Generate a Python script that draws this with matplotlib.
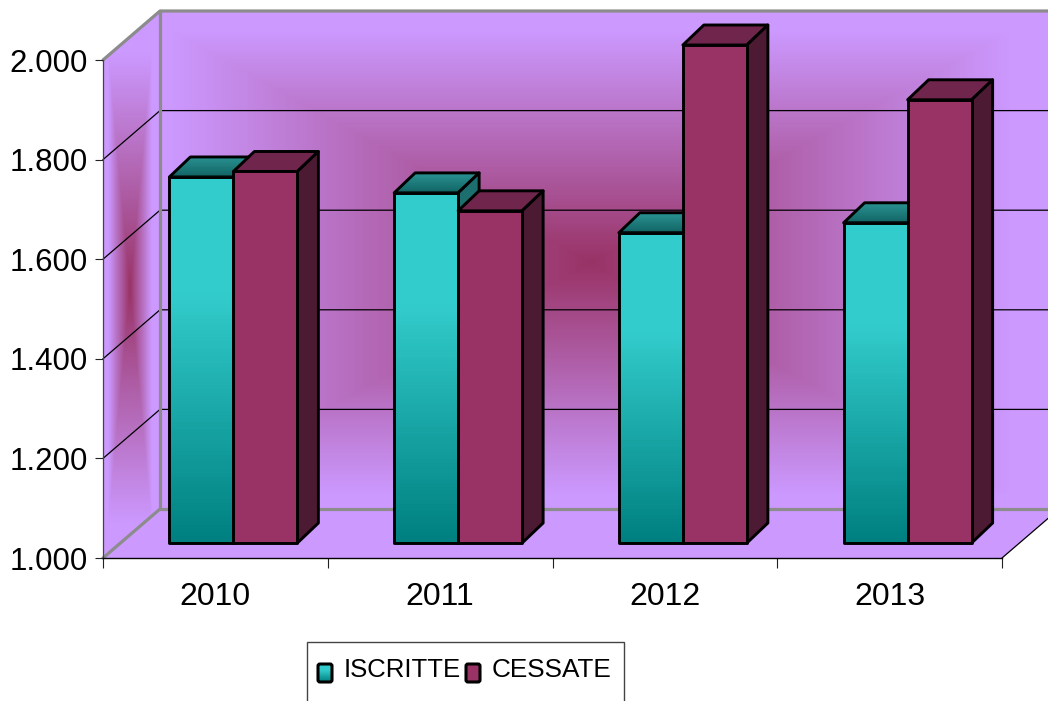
import numpy as np
import matplotlib
matplotlib.use('Agg')
import matplotlib.pyplot as plt
from matplotlib.colors import LinearSegmentedColormap
from matplotlib.patches import Polygon, Rectangle, FancyBboxPatch

years = ['2010', '2011', '2012', '2013']
iscritte = [1735, 1703, 1623, 1643]
cessate = [1746, 1667, 2000, 1890]
y_ticks = [1000, 1200, 1400, 1600, 1800, 2000]
y_labels = ['1.000', '1.200', '1.400', '1.600', '1.800', '2.000']

W, H = 1048, 701
wall_cmap = LinearSegmentedColormap.from_list('wall', ['#CC99FF', '#993366'])
teal_cmap = LinearSegmentedColormap.from_list('teal', [(0, '#008080'), (0.68, '#33CCCC'), (1, '#33CCCC')])
top_teal = LinearSegmentedColormap.from_list('topt', ['#126464', '#2A9292'])

plt.rcParams['font.family'] = ['Liberation Sans', 'DejaVu Sans']

fig = plt.figure(figsize=(W / 100, H / 100), dpi=100)

# pixel axes for the walls and the legend box
bg = fig.add_axes([0, 0, 1, 1], zorder=0)
bg.axis('off')

# front plane of the chart
left, right, bottom, top = 103, 1002, 558, 60
ax = fig.add_axes([left / W, 1 - bottom / H, (right - left) / W, (bottom - top) / H], zorder=1)
ax.patch.set_alpha(0)

depth_x, depth_y = 57, 49
bx0, bx1, by0, by1 = left + depth_x, right + depth_x, top - depth_y, bottom - depth_y

# back wall, rectangular path fill around a dark centre
px, py = np.meshgrid(np.arange(bx0, bx1), np.arange(by0, by1))
u = np.abs(px - 590) / 420
v = np.abs(py - 262) / 232
bg.imshow(np.clip(1 - np.maximum(u, v), 0, 1), cmap=wall_cmap, vmin=0, vmax=1, aspect='auto',
          extent=[bx0, bx1, by1, by0], zorder=1)

# side wall, the same fill squeezed into the parallelogram
px, py = np.meshgrid(np.linspace(left, bx0, 60), np.arange(by0, bottom))
u = np.abs(px - 130) / 22
v = np.abs(py - 288) / 235
side_img = bg.imshow(np.clip(1 - np.maximum(u, v), 0, 1), cmap=wall_cmap, vmin=0, vmax=1, aspect='auto',
                     extent=[left, bx0, bottom, by0], zorder=1)
side_poly = Polygon([(left, bottom), (left, top), (bx0, by0), (bx0, by1)], closed=True,
                    facecolor='none', edgecolor='none', zorder=1)
bg.add_patch(side_poly)
side_img.set_clip_path(side_poly)

# floor
bg.add_patch(Polygon([(left, bottom), (right, bottom), (bx1, by1), (bx0, by1)], closed=True,
                     facecolor='#CC99FF', edgecolor='none', zorder=1))

# grid on the walls
for tick in y_ticks[1:-1]:
    frac = (tick - y_ticks[0]) / (y_ticks[-1] - y_ticks[0])
    gy = bottom - frac * (bottom - top)
    bg.plot([left, bx0, bx1], [gy, gy - depth_y, gy - depth_y], color='black', lw=0.9, zorder=2)
bg.plot([right, bx1], [bottom, by1], color='black', lw=0.9, zorder=2)

# heavy grey edges of the box
edge = dict(color='#8C8C8C', lw=2.3, zorder=3, solid_capstyle='round')
bg.plot([left, bx0, bx1], [top, by0, by0], **edge)
bg.plot([bx0, bx0, bx1], [by0, by1, by1], **edge)
bg.plot([left, bx0], [bottom, by1], **edge)

# bars
ax.set_xlim(0, len(years))
ax.set_ylim(y_ticks[0], y_ticks[-1])
units_x = 1 / ((right - left) / len(years))
units_y = (y_ticks[-1] - y_ticks[0]) / (bottom - top)
front_dx, front_dy = 18 * units_x, 15 * units_y
step, rise = 21 * units_x, 20 * units_y
bar_w = 64 * units_x
edge_lw = 2.1
zo = 10


def draw_bar(x, value, front, top_face, side):
    global zo
    x0 = x + front_dx
    x1 = x0 + bar_w
    y0 = y_ticks[0] + front_dy
    y1 = value + front_dy
    common = dict(edgecolor='black', lw=edge_lw, joinstyle='round', clip_on=False)
    pts = [(x0, y1), (x1, y1), (x1 + step, y1 + rise), (x0 + step, y1 + rise)]
    if isinstance(top_face, str):
        ax.add_patch(Polygon(pts, closed=True, facecolor=top_face, zorder=zo + 2, **common))
    else:
        poly = Polygon(pts, closed=True, facecolor='none', zorder=zo + 2, **common)
        ax.add_patch(poly)
        img = ax.imshow(np.linspace(0, 1, 40).reshape(-1, 1), cmap=top_face, aspect='auto', origin='lower',
                        extent=[x0, x1 + step, y1, y1 + rise], zorder=zo + 1)
        img.set_clip_path(poly)
    ax.add_patch(Polygon([(x1, y0), (x1, y1), (x1 + step, y1 + rise), (x1 + step, y0 + rise)], closed=True,
                         facecolor=side, zorder=zo + 2, **common))
    if isinstance(front, str):
        ax.add_patch(Rectangle((x0, y0), bar_w, y1 - y0, facecolor=front, zorder=zo + 4, **common))
    else:
        ax.imshow(np.linspace(0, 1, 100).reshape(-1, 1), cmap=front, aspect='auto', origin='lower',
                  extent=[x0, x1, y0, y1], zorder=zo + 3)
        ax.add_patch(Rectangle((x0, y0), bar_w, y1 - y0, facecolor='none', zorder=zo + 4, **common))
    zo += 5


for i in range(len(years)):
    x = i + 0.5 - bar_w
    draw_bar(x, iscritte[i], teal_cmap, top_teal, '#1D6E6E')
    draw_bar(x + bar_w, cessate[i], '#993366', '#70264C', '#4D1A33')

ax.set_xlim(0, len(years))
ax.set_ylim(y_ticks[0], y_ticks[-1])
ax.set_xticks(range(len(years) + 1))
ax.set_xticklabels([])
ax.set_xticks(np.arange(len(years)) + 0.5, minor=True)
ax.set_xticklabels(years, minor=True, fontsize=23)
ax.set_yticks(y_ticks)
ax.set_yticklabels(y_labels, fontsize=22.5)
ax.tick_params(axis='x', which='major', length=7, width=0.8, color='#222222')
ax.tick_params(axis='x', which='minor', length=0, pad=17)
ax.tick_params(axis='y', length=6, width=0.8, color='#222222', pad=5)
for name in ['top', 'right']:
    ax.spines[name].set_visible(False)
ax.spines['left'].set_linewidth(0.9)
ax.spines['left'].set_color('#444444')
ax.spines['bottom'].set_linewidth(1.0)

# legend box runs off the bottom of the picture
bg.add_patch(Rectangle((307, 642), 317, 80, facecolor='white', edgecolor='#444444', lw=1.0, zorder=4))


def swatch(x, face):
    if isinstance(face, str):
        fill = face
    else:
        fill = 'none'
        bg.imshow(np.linspace(0, 1, 30).reshape(-1, 1), cmap=face, aspect='auto', origin='lower',
                  extent=[x, x + 14, 682, 664], zorder=5)
    bg.add_patch(FancyBboxPatch((x, 664), 14, 18, boxstyle='round,pad=0,rounding_size=2', facecolor=fill,
                                edgecolor='black', lw=2.2, zorder=6))


swatch(318, teal_cmap)
swatch(466, '#993366')
bg.text(344, 670, 'ISCRITTE', fontsize=18.5, va='center', ha='left', zorder=6)
bg.text(492, 670, 'CESSATE', fontsize=18.8, va='center', ha='left', zorder=6)

bg.set_xlim(0, W)
bg.set_ylim(H, 0)
fig.savefig('out.png', dpi=100)
